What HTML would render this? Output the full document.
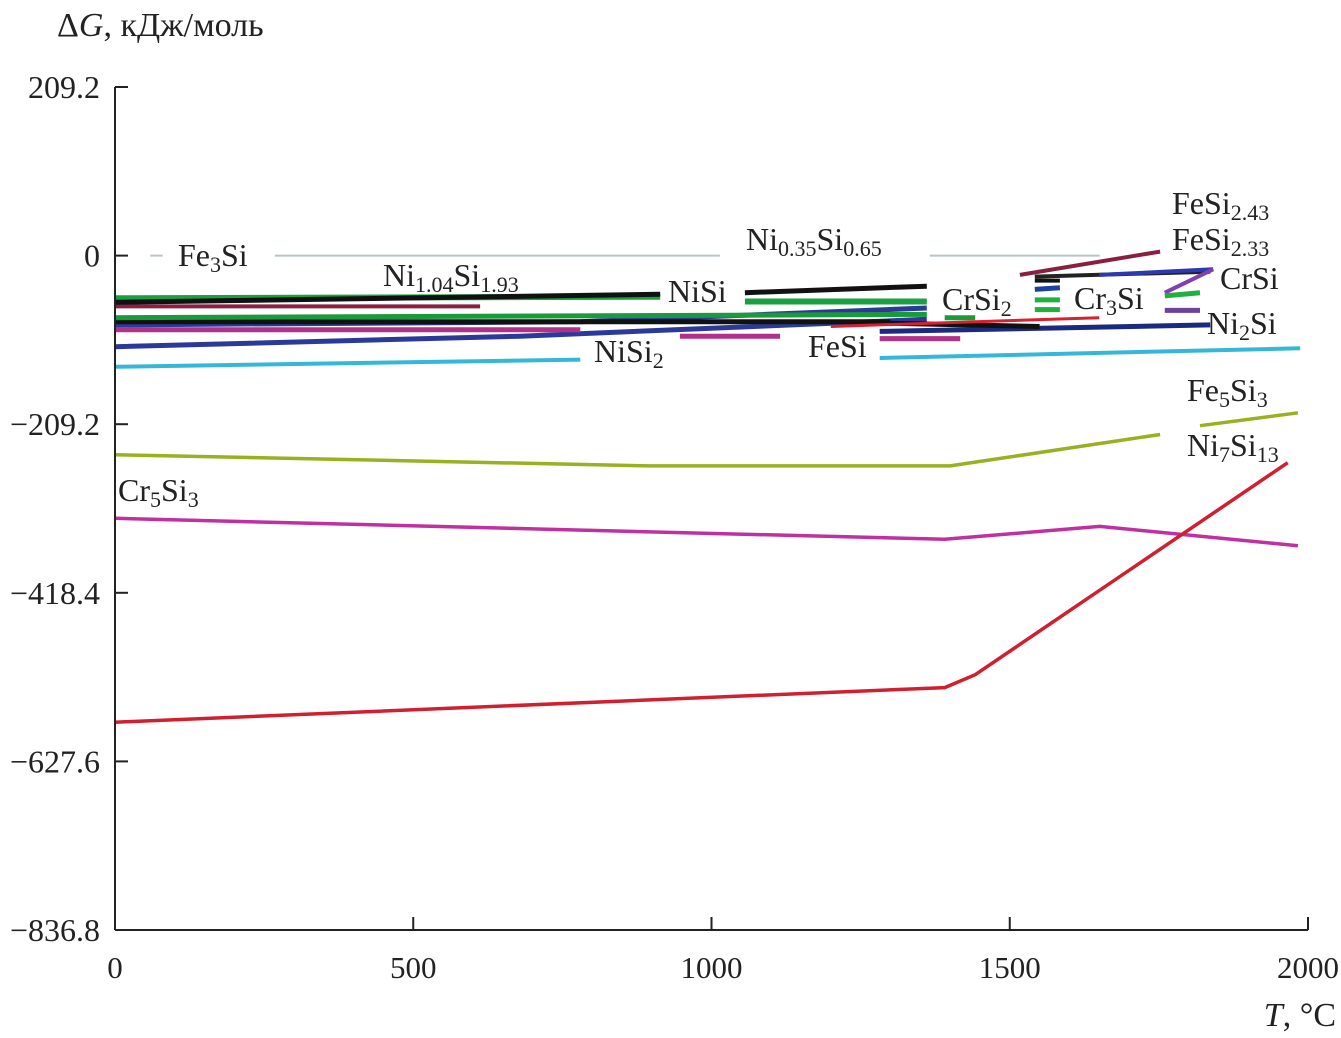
<!DOCTYPE html>
<html><head><meta charset="utf-8">
<style>
html,body{margin:0;padding:0;background:#fff;}
svg{display:block;}
text{font-family:"Liberation Serif",serif;fill:#222;}
</style></head>
<body>
<svg id="chart" width="1341" height="1038" viewBox="0 0 1341 1038" xmlns="http://www.w3.org/2000/svg">
<g id="marks"></g>
<g id="axes"></g>
</svg>
<script>
const xTicks = [0, 500, 1000, 1500, 2000];
const yTicks = [209.2, 0, -209.2, -418.4, -627.6, -836.8];
const yTickLabels = ["209.2", "0", "\u2212209.2", "\u2212418.4", "\u2212627.6", "\u2212836.8"];

// each series: list of segments, each segment list of [T, dG]
const fe3siGray = [[[59,0],[80,0]],[[268,0],[1014,0]],[[1366,0],[1651,0]]];
const greenTop = [[[0,-53],[914,-51]],[[1056,-57],[1361,-57]]];
const blackTop = [[[0,-58],[914,-48]],[[1056,-46],[1361,-38]]];
const darkRed1 = [[[0,-63],[612,-63]]];
const green2 = [[[0,-77],[1361,-73]],[[1391,-77],[1442,-77]]];
const black2 = [[[0,-82],[1300,-82]],[[1300,-84],[1550,-88]]];
const blue2 = [[[0,-86],[780,-82],[1361,-65]]];
const magenta1 = [[[0,-92],[780,-92]],[[947,-100],[1115,-100]],[[1282,-103],[1417,-103]]];
const blue3 = [[[0,-113],[679,-100],[1361,-79]]];
const navyNi2Si = [[[1282,-94],[1836,-86]]];
const cyanNiSi2 = [[[0,-138],[780,-129]],[[1282,-127],[1987,-115]]];
const red2 = [[[1200,-88],[1650,-77]]];
const feSi233 = [[[1517,-24],[1752,5]]];
const crsiBlack = [[[1542,-26],[1836,-20]]];
const crsiBlue = [[[1650,-24],[1841,-17]]];
const crsiPurple = [[[1760,-46],[1841,-17]]];
const crsiGreen = [[[1760,-50],[1819,-46]]];
const dashBlack = [[[1542,-31],[1584,-31]]];
const dashBlue = [[[1542,-42],[1584,-40]]];
const dashGreen = [[[1542,-55],[1584,-55]],[[1542,-67],[1584,-67]]];
const purpleShort = [[[1760,-68],[1819,-68]]];
const fe5si3 = [[[0,-247],[897,-261],[1400,-261],[1752,-222]],[[1819,-211],[1983,-195]]];
const cr5si3 = [[[0,-326],[1391,-352],[1651,-336],[1983,-360]]];
const ni7si13 = [[[0,-579],[1391,-536],[1442,-520],[1966,-257]]];

const series = [
 ["fe3si-line", fe3siGray, "#b8c4cc", 2],
 ["ni2si-line", navyNi2Si, "#1a2a80", 5],
 ["cyan-nisi2-line", cyanNiSi2, "#35b8d8", 4],
 ["blue-lower-line", blue3, "#2b3a9a", 5],
 ["magenta-fesi-line", magenta1, "#b0308a", 5],
 ["blue-mid-line", blue2, "#2b3a9a", 5],
 ["black-mid-line", black2, "#111111", 5],
 ["green-mid-line", green2, "#1a9a3a", 5],
 ["red-mid-line", red2, "#d82030", 3],
 ["darkred-top-line", darkRed1, "#8a2040", 4],
 ["green-top-line", greenTop, "#1aa040", 6],
 ["black-top-line", blackTop, "#111111", 5],
 ["fesi233-line", feSi233, "#8a2040", 4],
 ["crsi-black-line", crsiBlack, "#222222", 4],
 ["crsi-blue-line", crsiBlue, "#2b3ab0", 4],
 ["crsi-purple-line", crsiPurple, "#8040b0", 4],
 ["crsi-green-line", crsiGreen, "#20b040", 5],
 ["cr3si-black-dash", dashBlack, "#111111", 4],
 ["cr3si-blue-dash", dashBlue, "#2040a0", 5],
 ["cr3si-green-dash", dashGreen, "#20b040", 5],
 ["purple-short-line", purpleShort, "#7040a0", 5],
 ["fe5si3-line", fe5si3, "#9ab020", 3.5],
 ["cr5si3-line", cr5si3, "#c030a0", 3.5],
 ["ni7si13-line", ni7si13, "#d02030", 3.5]
];

const X0 = 115, X1 = 1308, Y0 = 87, Y1 = 930;
function xs(t){ return X0 + (t - 0) / 2000 * (X1 - X0); }
function ys(g){ return Y0 + (209.2 - g) / (209.2 + 836.8) * (Y1 - Y0); }
const NS = "http://www.w3.org/2000/svg";

const marks = document.getElementById('marks');
series.forEach(s => {
  s[1].forEach(seg => {
    const p = document.createElementNS(NS, 'polyline');
    p.setAttribute('points', seg.map(pt => xs(pt[0]).toFixed(1) + ',' + ys(pt[1]).toFixed(1)).join(' '));
    p.setAttribute('fill', 'none');
    p.setAttribute('stroke', s[2]);
    p.setAttribute('stroke-width', s[3]);
    
    
    marks.appendChild(p);
  });
});

const axes = document.getElementById('axes');
function line(x1,y1,x2,y2,name){
  const l = document.createElementNS(NS,'line');
  l.setAttribute('x1',x1);l.setAttribute('y1',y1);l.setAttribute('x2',x2);l.setAttribute('y2',y2);
  l.setAttribute('stroke','#222');l.setAttribute('stroke-width','2');
  
  
  axes.appendChild(l);
}
function text(x,y,str,anchor,name,size){
  const t = document.createElementNS(NS,'text');
  t.setAttribute('x',x);t.setAttribute('y',y);t.setAttribute('text-anchor',anchor);
  t.setAttribute('font-size', size || 31);
  t.textContent = str;
  
  
  axes.appendChild(t);
  return t;
}
line(X0, Y0, X0, Y1, 'y-axis');
line(X0, Y1, X1, Y1, 'x-axis');
yTicks.forEach((v,i) => {
  line(X0, ys(v), X0+13, ys(v), 'y-tick');
  text(100, ys(v)+11, yTickLabels[i], 'end', 'y-tick-label', 32);
});
xTicks.forEach(v => {
  line(xs(v), Y1, xs(v), Y1-13, 'x-tick');
  text(xs(v), 978, String(v), 'middle', 'x-tick-label', 31);
});
</script>
<svg style="position:absolute;left:0;top:0" width="1341" height="1038">
<g font-family="Liberation Serif, serif" font-size="32" fill="#222">
<text x="57" y="36" font-size="34">Δ<tspan font-style="italic">G</tspan>, кДж/моль</text>
<text x="1336" y="1026" text-anchor="end" font-size="34"><tspan font-style="italic">T</tspan>, °C</text>
<text x="178" y="266">Fe<tspan font-size="22" dy="6">3</tspan><tspan dy="-6">Si</tspan></text>
<text x="383" y="286">Ni<tspan font-size="22" dy="6">1.04</tspan><tspan dy="-6">Si</tspan><tspan font-size="22" dy="6">1.93</tspan></text>
<text x="746" y="250">Ni<tspan font-size="22" dy="6">0.35</tspan><tspan dy="-6">Si</tspan><tspan font-size="22" dy="6">0.65</tspan></text>
<text x="668" y="302">NiSi</text>
<text x="594" y="362">NiSi<tspan font-size="22" dy="6">2</tspan></text>
<text x="808" y="357">FeSi</text>
<text x="942" y="310">CrSi<tspan font-size="22" dy="6">2</tspan></text>
<text x="1074" y="309">Cr<tspan font-size="22" dy="6">3</tspan><tspan dy="-6">Si</tspan></text>
<text x="1172" y="214">FeSi<tspan font-size="22" dy="6">2.43</tspan></text>
<text x="1172" y="250">FeSi<tspan font-size="22" dy="6">2.33</tspan></text>
<text x="1220" y="289">CrSi</text>
<text x="1207" y="334">Ni<tspan font-size="22" dy="6">2</tspan><tspan dy="-6">Si</tspan></text>
<text x="1187" y="401">Fe<tspan font-size="22" dy="6">5</tspan><tspan dy="-6">Si</tspan><tspan font-size="22" dy="6">3</tspan></text>
<text x="1187" y="456">Ni<tspan font-size="22" dy="6">7</tspan><tspan dy="-6">Si</tspan><tspan font-size="22" dy="6">13</tspan></text>
<text x="118" y="501">Cr<tspan font-size="22" dy="6">5</tspan><tspan dy="-6">Si</tspan><tspan font-size="22" dy="6">3</tspan></text>
</g>
</svg>
</body></html>
